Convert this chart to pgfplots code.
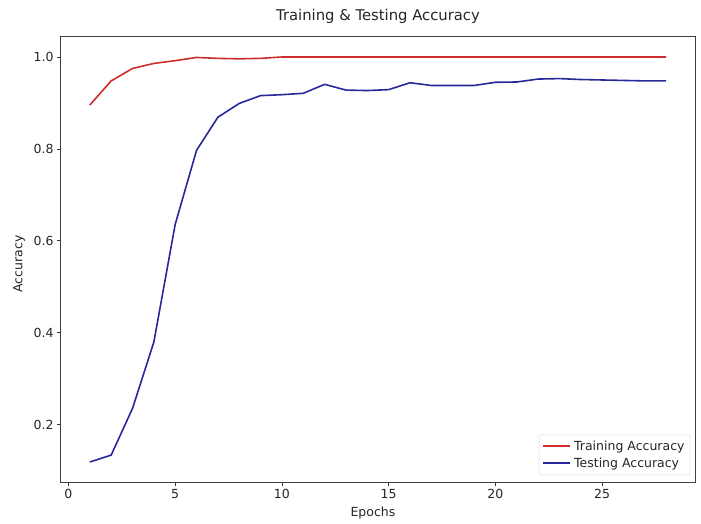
\documentclass[border=0pt]{standalone}
\usepackage{fontspec}
\setmainfont{DejaVu Sans}
\usepackage{pgfplots}
\pgfplotsset{compat=1.18}
\definecolor{trainred}{RGB}{205,45,45}
\definecolor{testblue}{RGB}{40,40,155}
\begin{document}
\begin{tikzpicture}
% fixed page frame around the axis box (0,0)--(634pt,445pt)
\path[use as bounding box] (-61pt,-41pt) rectangle (640pt,482pt);
\begin{axis}[
  at={(0pt,0pt)}, anchor=south west,
  scale only axis, width=634pt, height=445pt,
  xmin=-0.35, xmax=29.35, ymin=0.0755, ymax=1.0435,
  xtick={0,5,10,15,20,25},
  ytick={0.2,0.4,0.6,0.8,1.0},
  xtick pos=left, ytick pos=left,
  yticklabel style={/pgf/number format/.cd,fixed,fixed zerofill,precision=1},
  /pgf/number format/assume math mode=true,
  tick align=outside, major tick length=4pt,
  tick style={black!80, line width=0.8pt},
  axis line style={black!75, line width=1pt},
  ticklabel style={font=\fontsize{12.5}{14}\selectfont, text=black!85},
  title={Training \& Testing Accuracy},
  title style={at={(axis description cs:0.5,1.0337)}, anchor=center,
    font=\fontsize{14.8}{17}\selectfont, text=black!85},
  xlabel={Epochs},
  xlabel style={at={(axis description cs:0.492,-0.0697)}, anchor=center},
  ylabel={Accuracy},
  ylabel style={at={(axis description cs:-0.0662,0.49)}, anchor=center},
  label style={font=\fontsize{12.5}{14}\selectfont, text=black!85},
  legend style={at={(axis description cs:0.9932,0.0157)}, anchor=south east,
    draw=black!15, rounded corners=2pt, fill=white,
    font=\fontsize{12.5}{14}\selectfont, text=black!85,
    inner xsep=3pt, inner ysep=3pt, row sep=0pt,
    nodes={inner sep=3pt}},
  legend cell align=left,
  legend image code/.code={\draw[#1] (0pt,0pt) -- (27pt,0pt);},
  legend image post style={line width=2pt},
  every axis plot/.append style={line width=1.6pt},
]
\addplot[trainred] coordinates {
  (1,0.8955) (2,0.948) (3,0.975) (4,0.986) (5,0.992) (6,0.999) (7,0.997)
  (8,0.996) (9,0.997) (10,1.0) (11,1.0) (12,1.0) (13,1.0) (14,1.0)
  (15,1.0) (16,1.0) (17,1.0) (18,1.0) (19,1.0) (20,1.0) (21,1.0)
  (22,1.0) (23,1.0) (24,1.0) (25,1.0) (26,1.0) (27,1.0) (28,1.0)
};
\addlegendentry{Training Accuracy}
\addplot[testblue] coordinates {
  (1,0.119) (2,0.134) (3,0.2355) (4,0.380) (5,0.636) (6,0.797) (7,0.869)
  (8,0.899) (9,0.916) (10,0.918) (11,0.921) (12,0.9405) (13,0.928) (14,0.927)
  (15,0.929) (16,0.944) (17,0.938) (18,0.938) (19,0.938) (20,0.945) (21,0.9456)
  (22,0.952) (23,0.953) (24,0.951) (25,0.950) (26,0.949) (27,0.948) (28,0.948)
};
\addlegendentry{Testing Accuracy}
\end{axis}
\end{tikzpicture}
\end{document}
